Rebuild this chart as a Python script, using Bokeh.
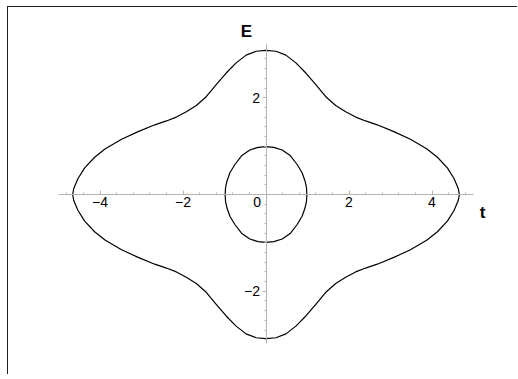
from bokeh.plotting import figure
from bokeh.models import Range1d, FixedTicker, Label
from bokeh.embed import file_html
from bokeh.resources import INLINE

# ---- data ----
outer_t = [0, 0.24, 0.48, 0.72, 0.96, 1.20, 1.44, 1.68, 1.92, 2.16, 2.40, 2.68, 3.08, 3.48, 3.88, 4.13, 4.37, 4.53, 4.63, 4.66,
           4.63, 4.53, 4.37, 4.13, 3.88, 3.48, 3.08, 2.68, 2.40, 2.16, 1.92, 1.68, 1.44, 1.20, 0.96, 0.72, 0.48, 0.24, 0,
           -0.24, -0.48, -0.72, -0.96, -1.20, -1.44, -1.68, -1.92, -2.16, -2.40, -2.68, -3.08, -3.48, -3.88, -4.13, -4.37, -4.53, -4.63, -4.66,
           -4.63, -4.53, -4.37, -4.13, -3.88, -3.48, -3.08, -2.68, -2.40, -2.16, -1.92, -1.68, -1.44, -1.20, -0.96, -0.72, -0.48, -0.24, 0]
outer_E = [2.98, 2.96, 2.88, 2.72, 2.51, 2.27, 2.02, 1.84, 1.71, 1.60, 1.52, 1.44, 1.30, 1.14, 0.94, 0.77, 0.55, 0.33, 0.13, 0,
           -0.13, -0.33, -0.55, -0.77, -0.94, -1.14, -1.30, -1.44, -1.52, -1.60, -1.71, -1.84, -2.02, -2.27, -2.51, -2.72, -2.88, -2.96, -2.98,
           -2.96, -2.88, -2.72, -2.51, -2.27, -2.02, -1.84, -1.71, -1.60, -1.52, -1.44, -1.30, -1.14, -0.94, -0.77, -0.55, -0.33, -0.13, 0,
           0.13, 0.33, 0.55, 0.77, 0.94, 1.14, 1.30, 1.44, 1.52, 1.60, 1.71, 1.84, 2.02, 2.27, 2.51, 2.72, 2.88, 2.96, 2.98]

inner_t = [0, 0.19, 0.39, 0.59, 0.75, 0.87, 0.94, 0.975, 0.985,
           0.975, 0.94, 0.87, 0.75, 0.59, 0.39, 0.19, 0,
           -0.19, -0.39, -0.59, -0.75, -0.87, -0.94, -0.975, -0.985,
           -0.975, -0.94, -0.87, -0.75, -0.59, -0.39, -0.19, 0]
inner_E = [0.99, 0.975, 0.92, 0.80, 0.62, 0.45, 0.28, 0.14, 0,
           -0.14, -0.28, -0.45, -0.62, -0.80, -0.92, -0.975, -0.99,
           -0.975, -0.92, -0.80, -0.62, -0.45, -0.28, -0.14, 0,
           0.14, 0.28, 0.45, 0.62, 0.80, 0.92, 0.975, 0.99]

x_major = [-4, -2, 2, 4]
x_minor = [-4.8, -4.4, -3.6, -3.2, -2.8, -2.4, -1.6, -1.2, -0.8, -0.4, 0.4, 0.8, 1.2, 1.6, 2.4, 2.8, 3.2, 3.6, 4.4, 4.8]
y_major = [-2, 2]
y_minor = [-3.0, -2.8, -2.6, -2.4, -2.2, -1.8, -1.6, -1.4, -1.2, -1.0, -0.8, -0.6, -0.4, -0.2,
           0.2, 0.4, 0.6, 0.8, 1.0, 1.2, 1.4, 1.6, 1.8, 2.2, 2.4, 2.6, 2.8, 3.0]
x_labels = {-4: "\u22124", -2: "\u22122", 2: "2", 4: "4"}
y_labels = {-2: "\u22122", 2: "2"}
origin_label = "0"
x_title = "t"
y_title = "E"
x_axis_bounds = (-5.0, 5.0)
y_axis_bounds = (-3.08, 3.12)

FONT = "Liberation Sans"
AXIS_COLOR = "#b4b4b4"

# canvas: page x 8..518, y 7..375 ; origin at page (265.5, 194)
p = figure(width=510, height=368, min_border=0,
           min_border_left=0, min_border_right=0, min_border_top=0, min_border_bottom=0,
           x_range=Range1d(-6.205, 6.084), y_range=Range1d(-3.740, 3.864),
           output_backend="svg", toolbar_location=None, tools="")
p.outline_line_color = None
p.xgrid.visible = False
p.ygrid.visible = False
p.background_fill_color = "white"
p.border_fill_color = "white"
p.styles = {"margin-left": "8px", "margin-top": "7px",
            "box-shadow": "-1px -1px 0px 0px #222222"}

for ax in (p.xaxis[0], p.yaxis[0]):
    ax.fixed_location = 0
    ax.axis_line_color = AXIS_COLOR
    ax.major_tick_line_color = AXIS_COLOR
    ax.minor_tick_line_color = AXIS_COLOR
    ax.major_label_text_font = FONT
    ax.major_label_text_font_size = "14px"
    ax.major_label_text_color = "#000000"

p.xaxis.bounds = x_axis_bounds
p.yaxis.bounds = y_axis_bounds
p.xaxis.ticker = FixedTicker(ticks=x_major, minor_ticks=x_minor)
p.yaxis.ticker = FixedTicker(ticks=y_major, minor_ticks=y_minor)
p.xaxis.major_label_overrides = x_labels
p.yaxis.major_label_overrides = y_labels
p.xaxis.major_tick_in = 4
p.xaxis.major_tick_out = 0
p.xaxis.minor_tick_in = 2
p.xaxis.minor_tick_out = 0
p.xaxis.major_label_standoff = 2
p.yaxis.major_tick_in = 0
p.yaxis.major_tick_out = 4
p.yaxis.minor_tick_in = 0
p.yaxis.minor_tick_out = 2
p.yaxis.major_label_standoff = 2

p.line(outer_t, outer_E, line_color="black", line_width=1.2, line_join="round")
p.line(inner_t, inner_E, line_color="black", line_width=1.2, line_join="round")

p.add_layout(Label(x=0, y=0, text=origin_label, x_offset=-5, y_offset=-2,
                   text_align="right", text_baseline="top",
                   text_font=FONT, text_font_size="14px", text_color="#000000"))
p.add_layout(Label(x=-0.47, y=3.37, text=y_title, text_align="center", text_baseline="middle",
                   text_font=FONT, text_font_size="17px", text_font_style="bold", text_color="#000000"))
p.add_layout(Label(x=5.22, y=-0.37, text=x_title, text_align="center", text_baseline="middle",
                   text_font=FONT, text_font_size="17px", text_font_style="bold", text_color="#000000"))

open("out.html", "w").write(file_html(p, INLINE))
